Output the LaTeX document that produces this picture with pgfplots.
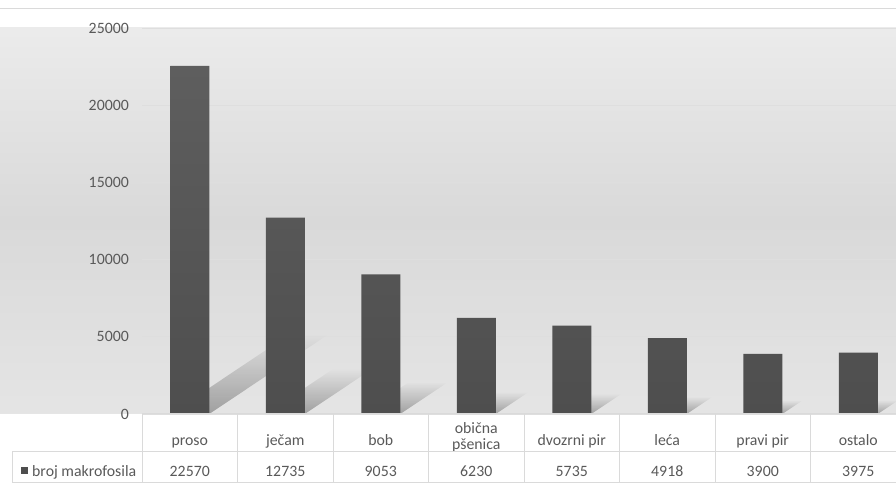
\documentclass[border=0pt]{standalone}
\usepackage{fontspec}
\setmainfont{Carlito}
\usepackage{pgfplots}
\pgfplotsset{compat=1.18}
\usetikzlibrary{fadings}
\definecolor{txt}{HTML}{595959}
\definecolor{gridc}{HTML}{DEDEDE}
\definecolor{tabc}{HTML}{DADADA}
\definecolor{barTop}{HTML}{5E5E5E}
\definecolor{barBot}{HTML}{4E4E4E}
\definecolor{bgA}{HTML}{F3F3F3}
\definecolor{bgB}{HTML}{E6E6E6}
\definecolor{bgC}{HTML}{D9D9D9}
\definecolor{bgD}{HTML}{ECECEC}
\pgfdeclareverticalshading{bgshade}{100bp}{color(0bp)=(bgA); color(22bp)=(bgB); color(50bp)=(bgC); color(76bp)=(bgD); color(100bp)=(white)}
\newcommand\lab{\fontsize{15.8bp}{16bp}\selectfont}
\begin{document}
\begin{tikzpicture}
\useasboundingbox (0bp,0bp) rectangle (896bp,485bp);
\shade[shading=bgshade] (0bp,71bp) rectangle (896bp,457bp);
\draw[tabc, line width=1bp] (0bp,476bp) -- (896bp,476bp);
\begin{axis}[
  at={(142bp,71bp)}, anchor=south west,
  scale only axis, width=764bp, height=385.7bp,
  xmin=-0.5, xmax=7.5, ymin=0, ymax=25000,
  clip=false,
  axis line style={draw=none},
  major tick length=0pt,
  ytick={0,5000,10000,15000,20000,25000},
  scaled y ticks=false,
  ymajorgrids, grid style={gridc, line width=1bp},
  xtick={0,1,2,3,4,5,6,7},
  xticklabels={proso, ječam, bob, {\raisebox{-4bp}{\begin{tabular}[b]{@{}c@{}}obična\\pšenica\end{tabular}}}, dvozrni pir, leća, pravi pir, ostalo},
  xticklabel style={font=\lab, text=txt, anchor=base, yshift=-31bp},
  yticklabel style={font=\lab, text=txt, xshift=-9.7bp},
  /pgf/number format/1000 sep={},
  /pgf/number format/assume math mode=true,
]
% shadows
\addplot[fill=black, fill opacity=0.3, draw=none, path fading=north, forget plot] coordinates {(-0.204,0) (0.204,0) (1.459,5191) (1.051,5191)} -- cycle;
\addplot[fill=black, fill opacity=0.3, draw=none, path fading=north, forget plot] coordinates {(0.796,0) (1.204,0) (1.912,2929) (1.504,2929)} -- cycle;
\addplot[fill=black, fill opacity=0.3, draw=none, path fading=north, forget plot] coordinates {(1.796,0) (2.204,0) (2.707,2082) (2.299,2082)} -- cycle;
\addplot[fill=black, fill opacity=0.3, draw=none, path fading=north, forget plot] coordinates {(2.796,0) (3.204,0) (3.550,1433) (3.142,1433)} -- cycle;
\addplot[fill=black, fill opacity=0.3, draw=none, path fading=north, forget plot] coordinates {(3.796,0) (4.204,0) (4.523,1319) (4.115,1319)} -- cycle;
\addplot[fill=black, fill opacity=0.3, draw=none, path fading=north, forget plot] coordinates {(4.796,0) (5.204,0) (5.477,1131) (5.069,1131)} -- cycle;
\addplot[fill=black, fill opacity=0.3, draw=none, path fading=north, forget plot] coordinates {(5.796,0) (6.204,0) (6.421,897) (6.013,897)} -- cycle;
\addplot[fill=black, fill opacity=0.3, draw=none, path fading=north, forget plot] coordinates {(6.796,0) (7.204,0) (7.425,914) (7.017,914)} -- cycle;
% bars
\addplot[ybar, bar width=39bp, draw=none, top color=barTop, bottom color=barBot]
  coordinates {(0,22570) (1,12735) (2,9053) (3,6230) (4,5735) (5,4918) (6,3900) (7,3975)};
% data table values
\node[font=\lab, text=txt, anchor=base, yshift=-62.7bp] at (axis cs:0,0) {22570};
\node[font=\lab, text=txt, anchor=base, yshift=-62.7bp] at (axis cs:1,0) {12735};
\node[font=\lab, text=txt, anchor=base, yshift=-62.7bp] at (axis cs:2,0) {9053};
\node[font=\lab, text=txt, anchor=base, yshift=-62.7bp] at (axis cs:3,0) {6230};
\node[font=\lab, text=txt, anchor=base, yshift=-62.7bp] at (axis cs:4,0) {5735};
\node[font=\lab, text=txt, anchor=base, yshift=-62.7bp] at (axis cs:5,0) {4918};
\node[font=\lab, text=txt, anchor=base, yshift=-62.7bp] at (axis cs:6,0) {3900};
\node[font=\lab, text=txt, anchor=base, yshift=-62.7bp] at (axis cs:7,0) {3975};
\end{axis}
% table grid
\draw[tabc, line width=1bp] (142bp,71bp) -- (896bp,71bp);
\draw[tabc, line width=1bp] (12bp,33bp) -- (896bp,33bp);
\draw[tabc, line width=1bp] (12bp,2bp) -- (896bp,2bp);
\draw[tabc, line width=1bp] (12bp,2bp) -- (12bp,33bp);
\foreach \k in {0,...,7} {
  \pgfmathsetmacro\xx{142+95.5*\k}
  \draw[tabc, line width=1bp] (\xx bp,2bp) -- (\xx bp,71bp);
}
% legend key in table
\fill[barBot] (21bp,11bp) rectangle (28bp,18bp);
\node[font=\lab, text=txt, anchor=base west, inner sep=0pt] at (32bp,8.3bp) {broj makrofosila};
\end{tikzpicture}
\end{document}
